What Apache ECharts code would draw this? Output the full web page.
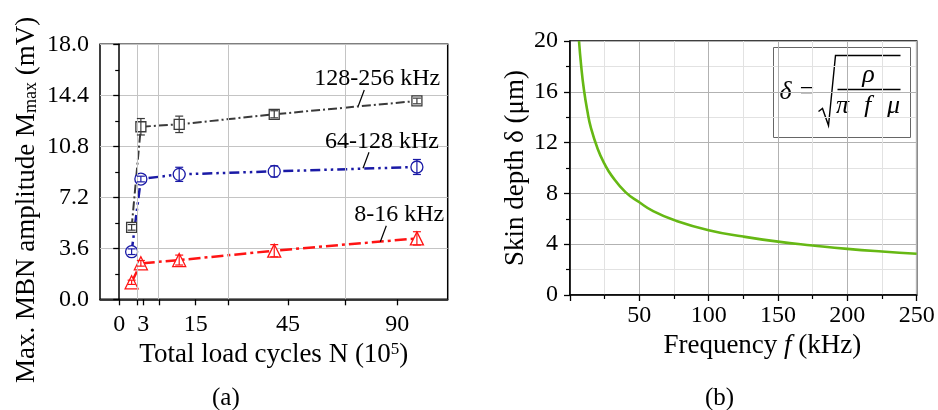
<!DOCTYPE html>
<html>
<head>
<meta charset="utf-8">
<script src="https://cdn.jsdelivr.net/npm/echarts@6/dist/echarts.min.js"></script>
<style>
  html, body { margin: 0; padding: 0; background: #fff; }
  #chart { width: 938px; height: 410px; }
</style>
</head>
<body>
<div id="chart"></div>
<script>
// ---- Panel (a): maximum MBN amplitude vs. total load cycles ----
const cycleTicks = [0, 3, 15, 45, 90];          // labelled ticks (10^5 cycles)
const cycleGridTicks = [2, 6, 24.5, 67.5];      // unlabelled ticks carrying grid lines
const cycles = [1.2, 2.6, 10.7, 40, 99];
const amp128 = [5.08, 12.18, 12.35, 13.06, 14.0];
const err128 = [0.2, 0.58, 0.58, 0.25, 0.2];
const amp64 = [3.36, 8.49, 8.82, 9.03, 9.34];
const err64 = [0.2, 0.2, 0.5, 0.39, 0.53];
const amp8 = [1.2, 2.54, 2.77, 3.43, 4.3];
const err8 = [0.15, 0.2, 0.35, 0.43, 0.47];
const bandNames = ['128-256 kHz', '64-128 kHz', '8-16 kHz'];
const noteCycles = [73, 75, 82.5];
const noteAmps = [13.65, 9.25, 4.06];

// ---- Panel (b): skin depth vs. frequency ----
const freq = [6.5, 8, 10, 12.5, 15, 20, 25, 30, 40, 50, 60, 75, 100, 125, 150, 175, 200, 225, 250];
const depth = [20, 18.1, 16.2, 14.5, 13.2, 11.5, 10.3, 9.4, 8.1, 7.3, 6.6, 5.9, 5.1, 4.6, 4.2, 3.9, 3.63, 3.42, 3.25];

// The load-cycle axis is drawn on a power scale (exponent POW).
const POW = 0.72;
const toAxis = v => Math.sign(v) * Math.pow(Math.abs(v), POW);
const fromAxis = u => Math.sign(u) * Math.pow(Math.abs(u), 1 / POW);

const SERIF = "'Liberation Serif', serif";
const C128 = '#3a3a3a', C64 = '#1a1aa6', C8 = '#ff1414', CGREEN = '#66b814';

function pts(xs, ys) { return xs.map((x, i) => [toAxis(x), ys[i]]); }

function errorBars(xs, ys, es, color) {
  return {
    type: 'custom', xAxisIndex: 0, yAxisIndex: 0, z: 5, silent: true,
    encode: { x: 0, y: [1, 2] },
    data: xs.map((x, i) => [toAxis(x), ys[i] - es[i], ys[i] + es[i]]),
    renderItem(params, api) {
      const lo = api.coord([api.value(0), api.value(1)]);
      const hi = api.coord([api.value(0), api.value(2)]);
      const w = 4;
      const st = { stroke: color, lineWidth: 1.2 };
      return { type: 'group', children: [
        { type: 'line', shape: { x1: lo[0], y1: lo[1], x2: hi[0], y2: hi[1] }, style: st },
        { type: 'line', shape: { x1: lo[0] - w, y1: lo[1], x2: lo[0] + w, y2: lo[1] }, style: st },
        { type: 'line', shape: { x1: hi[0] - w, y1: hi[1], x2: hi[0] + w, y2: hi[1] }, style: st }
      ] };
    }
  };
}

function bandLine(name, ys, color, symbol, size, dash, width) {
  return {
    name, type: 'line', xAxisIndex: 0, yAxisIndex: 0, z: 4,
    data: pts(cycles, ys),
    symbol, symbolSize: size, showAllSymbol: true,
    lineStyle: { color, width, type: dash },
    itemStyle: { color: '#fff', borderColor: color, borderWidth: 1.3 }
  };
}

const axisLine = { show: true, lineStyle: { color: '#000', width: 1.5 } };
const tickStyle = { show: true, inside: false, length: 6, lineStyle: { color: '#000', width: 1.3 } };
const minorTickStyle = { show: true, splitNumber: 2, length: 4, lineStyle: { color: '#000', width: 1.2 } };
const labelFont = { fontFamily: SERIF, fontSize: 24, color: '#000' };
const nameRich = {
  t: { fontFamily: SERIF, fontSize: 27, color: '#000' },
  i: { fontFamily: SERIF, fontSize: 27, color: '#000', fontStyle: 'italic' },
  p: { fontFamily: SERIF, fontSize: 17, color: '#000', verticalAlign: 'top' },
  s: { fontFamily: SERIF, fontSize: 18, color: '#000', verticalAlign: 'bottom' }
};

const chart = echarts.init(document.getElementById('chart'));

chart.setOption({
  animation: false,
  backgroundColor: '#fff',
  grid: [
    { left: 100, top: 44.3, width: 347.7, height: 255, show: true, borderColor: '#000', borderWidth: 1.5, backgroundColor: 'transparent' },
    { left: 570, top: 41, width: 346.7, height: 254, show: true, borderColor: '#000', borderWidth: 1.5, backgroundColor: 'transparent' }
  ],
  xAxis: [
    {
      gridIndex: 0, type: 'value',
      min: toAxis(-2.2), max: toAxis(113.5),
      axisLine,
      axisTick: Object.assign({}, tickStyle, { customValues: cycleTicks.concat(cycleGridTicks).map(toAxis) }),
      axisLabel: Object.assign({}, labelFont, {
        margin: 13,
        customValues: cycleTicks.map(toAxis),
        formatter: v => String(Math.round(fromAxis(v)))
      }),
      splitLine: { show: false },
      name: '{t|Total load cycles N (10}{p|5}{t|)}',
      nameLocation: 'middle', nameGap: 41,
      nameTextStyle: Object.assign({}, labelFont, { rich: nameRich })
    },
    {
      gridIndex: 1, type: 'value', min: 0, max: 250, interval: 50,
      axisLine,
      axisTick: tickStyle,
      minorTick: minorTickStyle,
      axisLabel: Object.assign({}, labelFont, { margin: 9, formatter: v => (v === 0 ? '' : String(v)) }),
      splitLine: { show: true, lineStyle: { color: '#b2b2b2', width: 1 } },
      minorSplitLine: { show: true, lineStyle: { color: '#e2e2e2', width: 1 } },
      name: '{t|Frequency }{i|f}{t| (kHz)}',
      nameLocation: 'middle', nameGap: 37,
      nameTextStyle: Object.assign({}, labelFont, { rich: nameRich, padding: [0, 0, 0, 38] })
    }
  ],
  yAxis: [
    {
      gridIndex: 0, type: 'value', min: 0, max: 18, interval: 3.6,
      axisLine,
      axisTick: tickStyle,
      minorTick: minorTickStyle,
      axisLabel: Object.assign({}, labelFont, { margin: 11, formatter: v => v.toFixed(1) }),
      splitLine: { show: true, lineStyle: { color: '#c4c4c4', width: 1 } },
      name: '{t|Max. MBN amplitude M}{s|max}{t| (mV)}',
      nameLocation: 'middle', nameGap: 60,
      nameTextStyle: Object.assign({}, labelFont, { rich: nameRich, padding: [0, 56, 0, 0] })
    },
    {
      gridIndex: 1, type: 'value', min: 0, max: 20, interval: 4,
      axisLine,
      axisTick: tickStyle,
      minorTick: minorTickStyle,
      axisLabel: Object.assign({}, labelFont, { margin: 12 }),
      splitLine: { show: true, lineStyle: { color: '#b2b2b2', width: 1 } },
      minorSplitLine: { show: true, lineStyle: { color: '#e2e2e2', width: 1 } },
      name: 'Skin depth δ (μm)',
      nameLocation: 'middle', nameGap: 41,
      nameTextStyle: Object.assign({}, labelFont, { fontSize: 27 })
    }
  ],
  series: [
    // vertical grid lines on the unlabelled cycle ticks
    {
      type: 'line', xAxisIndex: 0, yAxisIndex: 0, data: [], z: 1,
      markLine: {
        silent: true, symbol: 'none', label: { show: false },
        lineStyle: { color: '#c4c4c4', width: 1, type: 'solid' },
        data: cycleGridTicks.map(c => ({ xAxis: toAxis(c) }))
      }
    },
    bandLine('128-256 kHz', amp128, C128, 'rect', 10, [9, 3, 2, 3], 2),
    bandLine('64-128 kHz', amp64, C64, 'circle', 12, [10, 4, 2.5, 4, 2.5, 4], 2.5),
    bandLine('8-16 kHz', amp8, C8, 'triangle', 13, [12, 4, 3, 4], 2.5),
    errorBars(cycles, amp128, err128, C128),
    errorBars(cycles, amp64, err64, C64),
    errorBars(cycles, amp8, err8, C8),
    // band labels with short leader lines
    {
      type: 'custom', xAxisIndex: 0, yAxisIndex: 0, z: 6, silent: true,
      data: noteCycles.map((c, i) => [toAxis(c), noteAmps[i], i]),
      renderItem(params, api) {
        const p = api.coord([api.value(0), api.value(1)]);
        const q = [p[0] + 6, p[1] - 16];
        return { type: 'group', children: [
          { type: 'line', shape: { x1: p[0], y1: p[1], x2: q[0], y2: q[1] }, style: { stroke: '#000', lineWidth: 1.2 } },
          { type: 'text', x: q[0] + 13, y: q[1] - 11,
            style: { text: bandNames[api.value(2)], fill: '#000', fontFamily: SERIF, fontSize: 24, align: 'center', verticalAlign: 'middle' } }
        ] };
      }
    },
    // skin depth curve
    {
      type: 'line', xAxisIndex: 1, yAxisIndex: 1, z: 4,
      data: freq.map((f, i) => [f, depth[i]]),
      smooth: true, showSymbol: false, clip: true,
      lineStyle: { color: CGREEN, width: 2.6 }
    }
  ],
  graphic: [
    { type: 'text', left: 212, top: 386, style: { text: '(a)', fill: '#000', fontFamily: SERIF, fontSize: 25 } },
    { type: 'text', left: 705, top: 386, style: { text: '(b)', fill: '#000', fontFamily: SERIF, fontSize: 25 } },
    // skin depth formula box
    {
      type: 'group', left: 773, top: 47,
      children: [
        { type: 'rect', shape: { x: 0, y: 0, width: 137, height: 90 }, style: { fill: '#fff', stroke: '#666', lineWidth: 1 } },
        { type: 'text', x: 6, y: 45, style: { text: 'δ =', fill: '#000', fontFamily: SERIF, fontStyle: 'italic', fontSize: 26, verticalAlign: 'middle' } },
        { type: 'polyline', shape: { points: [[45, 64], [49, 61], [55, 78], [62, 8], [127, 8]] }, style: { stroke: '#000', lineWidth: 1.4, fill: null } },
        { type: 'line', shape: { x1: 64, y1: 42, x2: 127, y2: 42 }, style: { stroke: '#000', lineWidth: 1.4 } },
        { type: 'text', x: 95, y: 28, style: { text: 'ρ', fill: '#000', fontFamily: SERIF, fontStyle: 'italic', fontSize: 26, align: 'center', verticalAlign: 'middle' } },
        { type: 'text', x: 69, y: 59, style: { text: 'π', fill: '#000', fontFamily: SERIF, fontStyle: 'italic', fontSize: 26, align: 'center', verticalAlign: 'middle' } },
        { type: 'text', x: 94, y: 59, style: { text: 'f', fill: '#000', fontFamily: SERIF, fontStyle: 'italic', fontSize: 26, align: 'center', verticalAlign: 'middle' } },
        { type: 'text', x: 120, y: 59, style: { text: 'μ', fill: '#000', fontFamily: SERIF, fontStyle: 'italic', fontSize: 26, align: 'center', verticalAlign: 'middle' } }
      ]
    }
  ]
});
</script>
</body>
</html>
